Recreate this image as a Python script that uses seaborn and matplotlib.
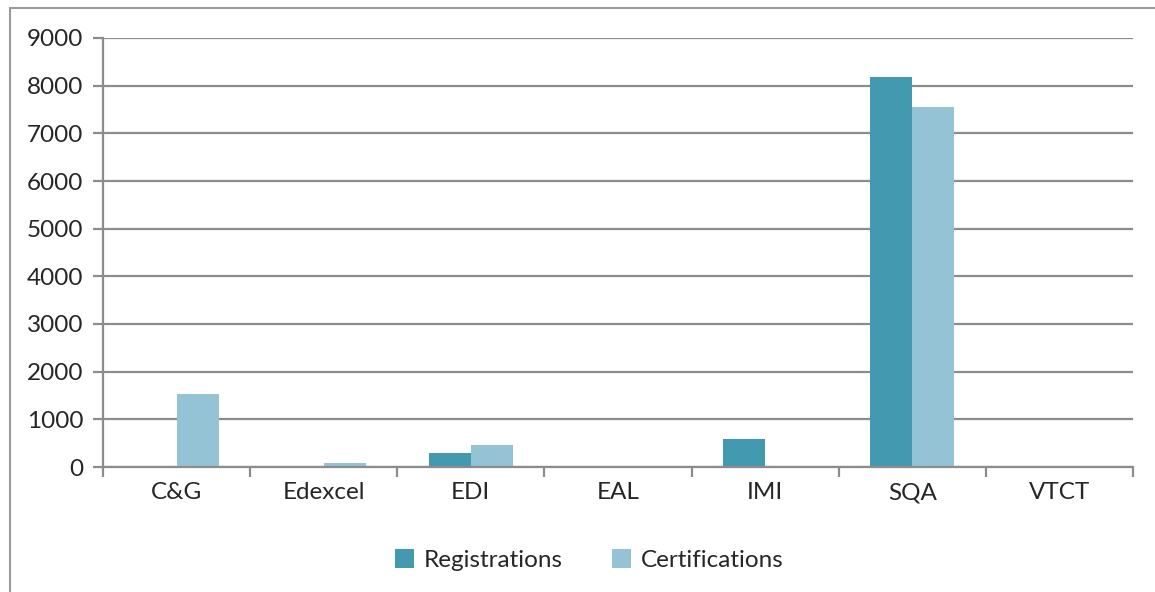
import pandas as pd
import matplotlib.pyplot as plt
import seaborn as sns
from matplotlib.patches import Rectangle

bodies = ['C&G', 'Edexcel', 'EDI', 'EAL', 'IMI', 'SQA', 'VTCT']
registrations = [0, 30, 287, 0, 594, 8180, 0]
certifications = [1530, 75, 455, 0, 0, 7550, 0]

df = pd.DataFrame({
    'Body': bodies * 2,
    'Count': registrations + certifications,
    'Series': ['Registrations'] * len(bodies) + ['Certifications'] * len(bodies),
})

sns.set_style('white')
plt.rcParams['font.family'] = ['Lato', 'DejaVu Sans']

fig = plt.figure(figsize=(11.55, 5.92), dpi=100)
ax = fig.add_axes([103 / 1155, 1 - 467 / 592, 1030 / 1155, 429 / 592])

# outer chart frame
fig.patches.append(Rectangle((10 / 1155, -0.1), 1.2, 1.1 - 8 / 592, transform=fig.transFigure,
                             fill=False, edgecolor='#9a9a9a', linewidth=1.5))

palette = {'Registrations': '#4399B0', 'Certifications': '#93C3D5'}
sns.barplot(data=df, x='Body', y='Count', hue='Series', palette=palette, saturation=1,
            width=0.57, ax=ax, linewidth=0, legend=True)

ax.set_ylim(0, 9000)
ax.set_xlim(-0.5, len(bodies) - 0.5)
ax.set_yticks(range(0, 9001, 1000))
ax.yaxis.grid(True, color='#8c8c8c', linewidth=1.6)
ax.set_axisbelow(True)
ax.set_xlabel('')
ax.set_ylabel('')

for s in ['top', 'right']:
    ax.spines[s].set_visible(False)
for s in ['left', 'bottom']:
    ax.spines[s].set_color('#8c8c8c')
    ax.spines[s].set_linewidth(1.6)

# category boundary ticks on x axis
ax.set_xticks([i - 0.5 for i in range(len(bodies) + 1)], minor=False)
ax.set_xticklabels([])
ax.set_xticks(range(len(bodies)), minor=True)
ax.set_xticklabels(bodies, minor=True, fontsize=17.5)
ax.tick_params(axis='x', which='major', length=7, width=1.6, color='#8c8c8c', direction='out', bottom=True)
ax.tick_params(axis='x', which='minor', length=0, pad=11)
ax.tick_params(axis='y', length=7, width=1.6, color='#8c8c8c', direction='out', left=True, labelsize=17.5, pad=7)

ax.legend(loc='upper center', bbox_to_anchor=(0.472, -0.14), ncol=2, frameon=False,
          fontsize=17.5, handlelength=0.8, handleheight=0.8, handletextpad=0.4, columnspacing=2.0)

fig.savefig('out.png', dpi=100)
